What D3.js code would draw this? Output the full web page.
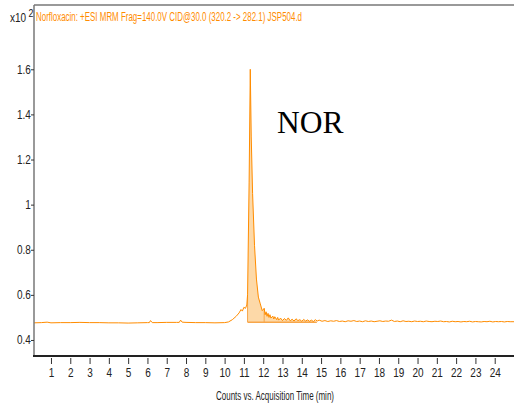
<!DOCTYPE html>
<html>
<head>
<meta charset="utf-8">
<script src="https://cdn.jsdelivr.net/npm/d3@7"></script>
<style>
  html, body { margin: 0; padding: 0; background: #fff; }
  svg { display: block; }
  .tick text { font-family: "Liberation Sans Narrow", "Arial Narrow", "Liberation Sans", Arial, sans-serif; font-size: 12.5px; fill: #222; }
</style>
</head>
<body>
<svg id="chart" width="514" height="412"></svg>
<script>
// Acquisition time (min) and response (counts, x10^2) for the NOR transition
const times = [
  0.12, 0.5, 0.8, 1.0, 1.5, 2.0, 2.5, 3.0, 3.5, 4.0, 4.5, 5.0, 5.5, 6.0, 6.1, 6.16, 6.25, 6.5,
  7.0, 7.5, 7.65, 7.72, 7.8, 8.0, 8.5, 9.0, 9.5, 10.0, 10.2, 10.4, 10.6, 10.75, 10.85, 10.92,
  11.0, 11.08, 11.15, 11.19, 11.27, 11.33, 11.38, 11.45, 11.55, 11.65, 11.75, 11.85, 11.95,
  12.05, 12.1, 12.15, 12.2, 12.25, 12.3, 12.35, 12.4, 12.5, 12.55, 12.6, 12.7, 12.75, 12.8, 12.9,
  13.0, 13.1, 13.2, 13.3, 13.4, 13.5, 13.6, 13.7, 13.8, 13.9, 14.0, 14.1, 14.2, 14.3, 14.4,
  14.5, 14.6, 14.7, 14.8, 14.9, 15.05, 15.2, 15.35, 15.5, 15.65, 15.8, 15.95, 16.1, 16.25,
  16.4, 16.55, 16.7, 16.85, 17.0, 17.15, 17.3, 17.45, 17.6, 17.75, 17.9, 18.05, 18.2, 18.35,
  18.5, 18.65, 18.8, 18.95, 19.1, 19.25, 19.4, 19.55, 19.7, 19.85, 20.0, 20.15, 20.3, 20.45,
  20.6, 20.75, 20.9, 21.05, 21.2, 21.35, 21.5, 21.65, 21.8, 21.95, 22.1, 22.25, 22.4, 22.55,
  22.7, 22.85, 23.0, 23.15, 23.3, 23.45, 23.6, 23.75, 23.9, 24.05, 24.2, 24.35, 24.5, 24.65,
  24.8, 25.0
];
const counts = [
  0.476, 0.477, 0.479, 0.476, 0.477, 0.477, 0.478, 0.477, 0.477, 0.476, 0.476, 0.475, 0.476, 0.477, 0.477, 0.486, 0.477, 0.477,
  0.478, 0.478, 0.478, 0.488, 0.479, 0.478, 0.477, 0.477, 0.476, 0.477, 0.480, 0.490, 0.505, 0.520, 0.535, 0.528,
  0.545, 0.540, 0.555, 0.600, 1.100, 1.600, 1.300, 1.050, 0.820, 0.670, 0.590, 0.560, 0.530,
  0.540, 0.512, 0.525, 0.505, 0.518, 0.500, 0.512, 0.497, 0.506, 0.493, 0.503, 0.490, 0.500, 0.488, 0.497,
  0.486, 0.495, 0.487, 0.498, 0.485, 0.492, 0.484, 0.494, 0.486, 0.490, 0.483, 0.491, 0.484, 0.489, 0.483,
  0.488, 0.482, 0.490, 0.484, 0.488, 0.483, 0.486, 0.482, 0.485, 0.483, 0.486, 0.482, 0.484, 0.481,
  0.485, 0.483, 0.486, 0.482, 0.484, 0.481, 0.485, 0.482, 0.484, 0.481, 0.483, 0.485, 0.482, 0.484,
  0.483, 0.488, 0.482, 0.484, 0.481, 0.485, 0.482, 0.483, 0.481, 0.484, 0.482, 0.483, 0.481, 0.484,
  0.482, 0.481, 0.483, 0.482, 0.484, 0.481, 0.482, 0.480, 0.483, 0.481, 0.482, 0.480, 0.482, 0.481,
  0.483, 0.480, 0.482, 0.481, 0.480, 0.482, 0.481, 0.483, 0.480, 0.482, 0.481, 0.482, 0.480, 0.482,
  0.481, 0.481
];
// Integrated peak window and its baseline
const peakStart = 11.19, peakSplit = 12.05, peakEnd = 14.78, peakBase = 0.479;

const xTicks = d3.range(1, 26);
const yTicks = [0.4, 0.6, 0.8, 1, 1.2, 1.4, 1.6];
const title = "Norfloxacin: +ESI MRM Frag=140.0V CID@30.0 (320.2 -> 282.1) JSP504.d";
const xLabel = "Counts vs. Acquisition Time (min)";
const peakLabel = "NOR";

const svg = d3.select("#chart");
const plotLeft = 34, plotRight = 514, plotTop = 5, plotBottom = 356;

const x = d3.scaleLinear().domain([0.12, 25]).range([plotLeft, plotRight]);
const y = d3.scaleLinear().domain([0.329, 1.885]).range([plotBottom, plotTop]);

const data = times.map((t, i) => ({ t, v: counts[i] }));
const orange = "#ff8c00";
const narrow = "'Liberation Sans Narrow', 'Arial Narrow', 'Liberation Sans', sans-serif";
const squeeze = "scale(0.8,1)";

// integrated area
const inPeak = data.filter(d => d.t >= peakStart && d.t <= peakEnd);
svg.append("path")
  .datum(inPeak)
  .attr("fill", "#fdd9a8")
  .attr("stroke", "none")
  .attr("d", d3.area().x(d => x(d.t)).y0(y(peakBase)).y1(d => y(d.v)));

const vAt = t => {
  const i = d3.bisector(d => d.t).left(data, t);
  const a = data[Math.max(0, i - 1)], b = data[i];
  if (!b) return a.v;
  return a.v + (b.v - a.v) * ((t - a.t) / (b.t - a.t || 1));
};
svg.append("line")
  .attr("x1", x(peakStart)).attr("x2", x(peakEnd))
  .attr("y1", y(peakBase)).attr("y2", y(peakBase))
  .attr("stroke", "#f7a64a").attr("stroke-width", 1.5);
[peakStart, peakSplit].forEach(t => {
  svg.append("line")
    .attr("x1", x(t)).attr("x2", x(t))
    .attr("y1", y(peakBase)).attr("y2", y(vAt(t)))
    .attr("stroke", "#f7a64a").attr("stroke-width", 1);
});

// trace
svg.append("path")
  .datum(data)
  .attr("fill", "none")
  .attr("stroke", orange)
  .attr("stroke-width", 1)
  .attr("d", d3.line().x(d => x(d.t)).y(d => y(d.v)));

// frame
svg.append("line").attr("x1", plotLeft).attr("x2", plotRight).attr("y1", plotTop).attr("y2", plotTop)
  .attr("stroke", "#999").attr("stroke-width", 2);
svg.append("line").attr("x1", plotLeft).attr("x2", plotLeft).attr("y1", plotTop).attr("y2", plotBottom)
  .attr("stroke", "#777").attr("stroke-width", 1.5);
svg.append("line").attr("x1", plotLeft - 1).attr("x2", plotRight).attr("y1", plotBottom).attr("y2", plotBottom)
  .attr("stroke", "#222").attr("stroke-width", 2);

// x axis
const gx = svg.append("g").attr("transform", `translate(0,${plotBottom + 2})`)
  .call(d3.axisBottom(x).tickValues(xTicks).tickSize(6).tickPadding(4)
    .tickFormat(d => d <= 24 ? d : ""));
gx.select(".domain").remove();
gx.selectAll(".tick line").attr("stroke", "#333");
gx.selectAll(".tick text").attr("transform", squeeze);

// y axis
const gy = svg.append("g").attr("transform", `translate(${plotLeft},0)`)
  .call(d3.axisLeft(y).tickValues(yTicks).tickSize(3).tickPadding(1)
    .tickFormat(d3.format("~g")));
gy.select(".domain").remove();
gy.selectAll(".tick line").attr("stroke", "#333");
gy.selectAll(".tick text").attr("transform", squeeze);

// scale factor label
const sf = svg.append("text")
  .attr("transform", `translate(10,22) ${squeeze}`)
  .attr("font-family", narrow)
  .attr("font-size", 12.5).attr("fill", "#222");
sf.append("tspan").text("x10");
sf.append("tspan").attr("dx", 3).attr("dy", -5).attr("font-size", 11).text("2");

// trace title
svg.append("text")
  .attr("x", 36).attr("y", 21)
  .attr("font-family", narrow)
  .attr("font-size", 12).attr("fill", orange)
  .attr("textLength", 266).attr("lengthAdjust", "spacingAndGlyphs")
  .text(title);

// axis title
svg.append("text")
  .attr("x", 275).attr("y", 400).attr("text-anchor", "middle")
  .attr("font-family", narrow)
  .attr("font-size", 12).attr("fill", "#222")
  .attr("textLength", 118).attr("lengthAdjust", "spacingAndGlyphs")
  .text(xLabel);

// peak annotation
svg.append("text")
  .attr("x", 277).attr("y", 133)
  .attr("font-family", "'Liberation Serif', 'Times New Roman', serif")
  .attr("font-size", 31.5).attr("fill", "#000")
  .text(peakLabel);
</script>
</body>
</html>
